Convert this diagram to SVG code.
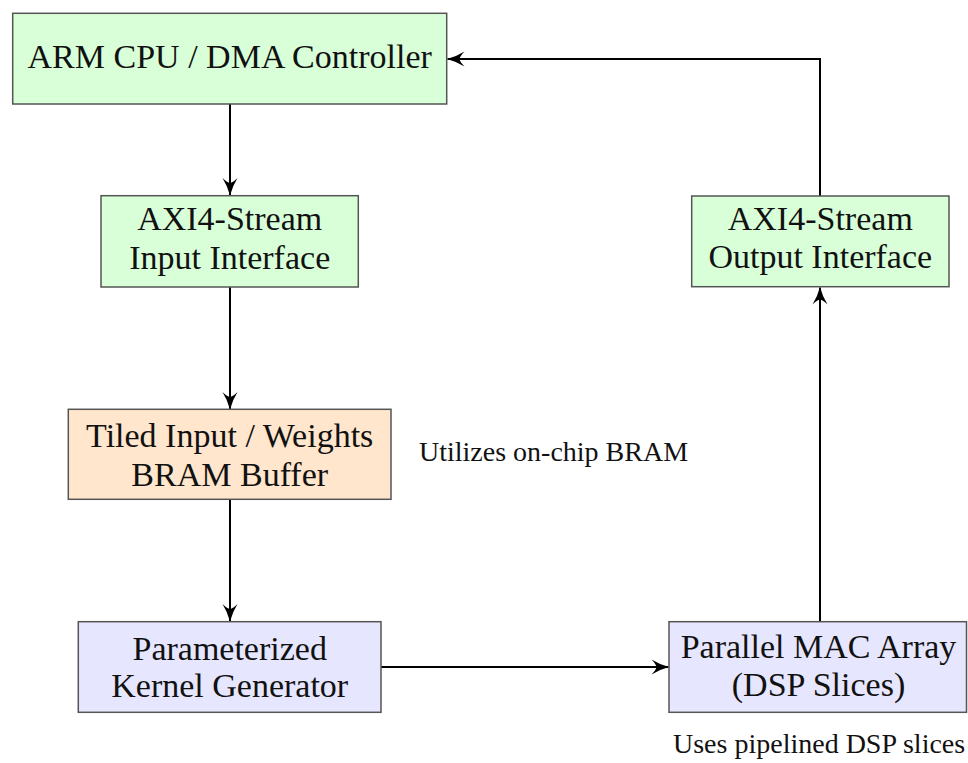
<svg xmlns="http://www.w3.org/2000/svg" width="968" height="763" viewBox="0 0 968 763">
<style>
.box{stroke:#555;stroke-width:1.5}
.green{fill:#d9ffd9}
.orange{fill:#ffe6cc}
.blue{fill:#e6e6ff}
.t{font-family:"Liberation Serif","Times New Roman",serif;font-size:34px;fill:#111;text-anchor:middle}
.a{font-family:"Liberation Serif","Times New Roman",serif;font-size:28px;fill:#111}
.c{fill:none;stroke:#000;stroke-width:2;marker-end:url(#arr)}
</style>
<defs>
<marker id="arr" viewBox="-18 -8 19 16" refX="0" refY="0" markerWidth="19" markerHeight="16" markerUnits="userSpaceOnUse" orient="auto">
<path d="M0.5,0 Q-9,-2.5 -17,-7.5 Q-12.5,-3 -12,0 Q-12.5,3 -17,7.5 Q-9,2.5 0.5,0 Z" fill="#000"/>
</marker>
</defs>
<g id="connectors">
<path class="c" d="M230,104 V195"/>
<path class="c" d="M230,287 V409"/>
<path class="c" d="M230,499.5 V621"/>
<path class="c" d="M381,667 H668.5"/>
<path class="c" d="M820,622 V287.5"/>
<path class="c" d="M820,196 V59 H447.5"/>
</g>
<g id="arm">
<rect class="box green" x="12.7" y="13.3" width="434" height="90.7"/>
<text class="t" x="229.7" y="68">ARM CPU / DMA Controller</text>
</g>
<g id="axi-in">
<rect class="box green" x="101" y="195.7" width="257.3" height="91.3"/>
<text class="t" x="229.7" y="230">AXI4-Stream</text>
<text class="t" x="229.7" y="269">Input Interface</text>
</g>
<g id="bram">
<rect class="box orange" x="68.3" y="409.3" width="322.7" height="90"/>
<text class="t" x="229.7" y="446.7">Tiled Input / Weights</text>
<text class="t" x="229.7" y="485.7">BRAM Buffer</text>
</g>
<g id="kernel">
<rect class="box blue" x="78.3" y="621.7" width="302.7" height="90.6"/>
<text class="t" x="229.7" y="660">Parameterized</text>
<text class="t" x="229.7" y="697.3">Kernel Generator</text>
</g>
<g id="mac">
<rect class="box blue" x="669" y="621.7" width="297.5" height="90.6"/>
<text class="t" x="818.5" y="658.3">Parallel MAC Array</text>
<text class="t" x="818.5" y="696">(DSP Slices)</text>
</g>
<g id="axi-out">
<rect class="box green" x="691.7" y="196" width="257.3" height="90.7"/>
<text class="t" x="820.3" y="230">AXI4-Stream</text>
<text class="t" x="820.3" y="268">Output Interface</text>
</g>
<text class="a" x="419" y="461">Utilizes on-chip BRAM</text>
<text class="a" x="673" y="753">Uses pipelined DSP slices</text>
</svg>
